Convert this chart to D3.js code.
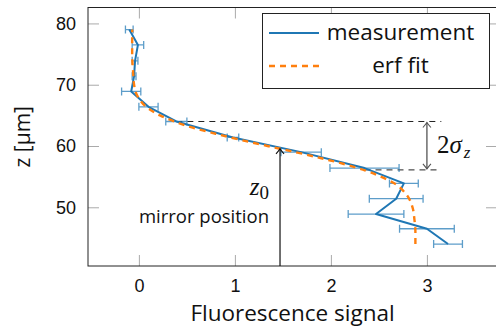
<!DOCTYPE html>
<html>
<head>
<meta charset="utf-8">
<script src="https://cdn.jsdelivr.net/npm/d3@7"></script>
<style>
  body { margin: 0; background: #fff; }
  svg { display: block; font-family: 'Open Sans', sans-serif; }
</style>
</head>
<body>
<div id="chart"></div>
<script>
// measured profile (z in µm, signal with horizontal error)
const zPos = [79.0, 76.5, 73.9, 71.4, 68.9, 66.4, 64.0, 61.4, 59.0, 56.4, 53.9, 51.4, 48.9, 46.5, 44.0]
const signal = [-0.10, -0.01, -0.04, -0.05, -0.08, 0.10, 0.39, 0.98, 1.69, 2.35, 2.76, 2.68, 2.47, 3.00, 3.22]
const signalErr = [0.04, 0.06, 0.03, 0.02, 0.10, 0.10, 0.11, 0.06, 0.21, 0.36, 0.15, 0.28, 0.29, 0.285, 0.15]

// erf fit
const fitZ = [44, 46, 48, 50, 52, 54, 55, 56, 57, 58, 59, 60, 61, 62, 63, 64, 65, 66, 68, 70, 72, 75, 79]
const fitSignal = [2.88, 2.88, 2.87, 2.85, 2.79, 2.65, 2.52, 2.36, 2.15, 1.90, 1.63, 1.34, 1.06, 0.80, 0.56, 0.37, 0.22, 0.11, -0.01, -0.05, -0.06, -0.07, -0.07]

const xTicks = [0, 1, 2, 3]
const yTicks = [50, 60, 70, 80]
const legendLabels = ['measurement', 'erf fit']

// annotations
const mirrorZ = 59.7
const mirrorSignal = 1.47
const sigmaTop = { z: 64.0, from: 0.39 }
const sigmaBottom = { z: 56.1, from: 2.35 }
const sigmaEnd = 3.15
const sigmaArrowX = 3.0

const width = 496, height = 327
const box = { left: 88, top: 7.5, right: 497, bottom: 266 }
const blue = '#1f77b4', orange = '#ff7f0e'

const svg = d3.select('#chart').append('svg')
  .attr('width', width).attr('height', height)

const defs = svg.append('defs')
const marker = (id, color) => defs.append('marker')
  .attr('id', id)
  .attr('viewBox', '-6 -5 8 10')
  .attr('refX', 0).attr('refY', 0)
  .attr('markerWidth', 8).attr('markerHeight', 10)
  .attr('markerUnits', 'userSpaceOnUse')
  .attr('orient', 'auto-start-reverse')
  .append('path')
  .attr('d', 'M-5,-4 Q-1.5,-1 0,0 Q-1.5,1 -5,4')
  .attr('fill', 'none').attr('stroke', color).attr('stroke-width', 1.1)
marker('tipBlack', '#111')
marker('tipGray', '#555')

const x = d3.scaleLinear().domain([-0.53, 3.73]).range([box.left, box.right])
const y = d3.scaleLinear().domain([40.42, 82.6]).range([box.bottom, box.top])

// ticks (inside, gray) on all four sides
const tickStyle = g => g
  .call(g => g.select('.domain').remove())
  .call(g => g.selectAll('.tick line').attr('stroke', '#aaa').attr('stroke-width', 1))
  .call(g => g.selectAll('.tick text').attr('fill', '#111').attr('font-size', 18))

svg.append('g')
  .attr('transform', `translate(0,${box.bottom})`)
  .call(d3.axisBottom(x).tickValues(xTicks).tickFormat(d3.format('d')).tickSize(-11).tickSizeOuter(0).tickPadding(13.5))
  .call(tickStyle)
svg.append('g')
  .attr('transform', `translate(0,${box.top})`)
  .call(d3.axisTop(x).tickValues(xTicks).tickSize(-11).tickSizeOuter(0).tickFormat(''))
  .call(tickStyle)
svg.append('g')
  .attr('transform', `translate(${box.left},0)`)
  .call(d3.axisLeft(y).tickValues(yTicks).tickFormat(d3.format('d')).tickSize(-11).tickSizeOuter(0).tickPadding(12))
  .call(tickStyle)
svg.append('g')
  .attr('transform', `translate(${box.right},0)`)
  .call(d3.axisRight(y).tickValues(yTicks).tickSize(-11).tickSizeOuter(0).tickFormat(''))
  .call(tickStyle)

svg.append('rect')
  .attr('x', box.left).attr('y', box.top)
  .attr('width', box.right - box.left).attr('height', box.bottom - box.top)
  .attr('fill', 'none').attr('stroke', '#222').attr('stroke-width', 1)

// axis labels
svg.append('text')
  .attr('x', (box.left + box.right) / 2).attr('y', 321)
  .attr('text-anchor', 'middle').attr('font-size', 22.5).attr('fill', '#111')
  .text('Fluorescence signal')
svg.append('text')
  .attr('transform', `translate(30,${(box.top + box.bottom) / 2}) rotate(-90)`)
  .attr('text-anchor', 'middle').attr('font-size', 21).attr('fill', '#111')
  .text('z [µm]')

// 2 sigma guides
const guides = svg.append('g').attr('stroke', '#222').attr('stroke-width', 1).attr('stroke-dasharray', '6,5')
;[sigmaTop, sigmaBottom].forEach(s => guides.append('line')
  .attr('x1', x(s.from)).attr('x2', x(sigmaEnd))
  .attr('y1', y(s.z)).attr('y2', y(s.z)))

svg.append('line')
  .attr('x1', x(sigmaArrowX)).attr('x2', x(sigmaArrowX))
  .attr('y1', y(sigmaTop.z) + 1).attr('y2', y(sigmaBottom.z) - 1)
  .attr('stroke', '#555').attr('stroke-width', 1.3)
  .attr('marker-start', 'url(#tipGray)').attr('marker-end', 'url(#tipGray)')

const sig = svg.append('text').attr('x', x(sigmaArrowX) + 10).attr('y', y(60.1) + 8)
  .attr('font-family', "'Liberation Serif', serif").attr('fill', '#111')
sig.append('tspan').attr('font-size', 25).text('2')
sig.append('tspan').attr('font-size', 25).attr('font-style', 'italic').text('σ')
sig.append('tspan').attr('font-size', 17).attr('font-style', 'italic').attr('dx', 2).attr('dy', 5).text('z')

// error bars
const errs = svg.append('g').attr('stroke', blue).attr('stroke-opacity', 0.72).attr('stroke-width', 1.3)
zPos.forEach((z, i) => {
  const x0 = x(signal[i] - signalErr[i]), x1 = x(signal[i] + signalErr[i]), yy = y(z)
  errs.append('path').attr('fill', 'none')
    .attr('d', `M${x0},${yy}H${x1}M${x0},${yy - 4}V${yy + 4}M${x1},${yy - 4}V${yy + 4}`)
})

// measurement line
const line = d3.line().x(d => x(d[1])).y(d => y(d[0]))
svg.append('path')
  .datum(zPos.map((z, i) => [z, signal[i]]))
  .attr('fill', 'none').attr('stroke', blue).attr('stroke-width', 2)
  .attr('stroke-linejoin', 'round')
  .attr('d', line)

// fit line
svg.append('path')
  .datum(fitZ.map((z, i) => [z, fitSignal[i]]))
  .attr('fill', 'none').attr('stroke', orange).attr('stroke-width', 2.4)
  .attr('stroke-dasharray', '6,5')
  .attr('d', line.curve(d3.curveMonotoneY))

// mirror position
svg.append('line')
  .attr('x1', x(mirrorSignal)).attr('x2', x(mirrorSignal))
  .attr('y1', box.bottom).attr('y2', y(mirrorZ) + 1)
  .attr('stroke', '#111').attr('stroke-width', 1.2)
  .attr('marker-end', 'url(#tipBlack)')

const z0 = svg.append('text').attr('x', x(mirrorSignal) - 11).attr('y', 195)
  .attr('text-anchor', 'end').attr('font-family', "'Liberation Serif', serif").attr('fill', '#111')
z0.append('tspan').attr('font-size', 25).attr('font-style', 'italic').text('z')
z0.append('tspan').attr('font-size', 19).attr('dy', 4).text('0')

svg.append('text')
  .attr('x', x(mirrorSignal) - 11).attr('y', 223)
  .attr('text-anchor', 'end').attr('font-size', 18.5).attr('fill', '#111')
  .text('mirror position')

// legend
const legend = svg.append('g')
legend.append('rect')
  .attr('x', 262.5).attr('y', 13.5).attr('width', 227).attr('height', 75)
  .attr('fill', '#fff').attr('stroke', '#222').attr('stroke-width', 1)
legendLabels.forEach((label, i) => {
  const ly = 33 + i * 33
  legend.append('line')
    .attr('x1', 269).attr('x2', 319).attr('y1', ly).attr('y2', ly)
    .attr('stroke', i ? orange : blue).attr('stroke-width', i ? 2.4 : 2)
    .attr('stroke-dasharray', i ? '6,5' : null)
  legend.append('text')
    .attr('x', 400.5).attr('y', ly + 7)
    .attr('text-anchor', 'middle').attr('font-size', 22.5).attr('fill', '#111')
    .text(label)
})
</script>
</body>
</html>
